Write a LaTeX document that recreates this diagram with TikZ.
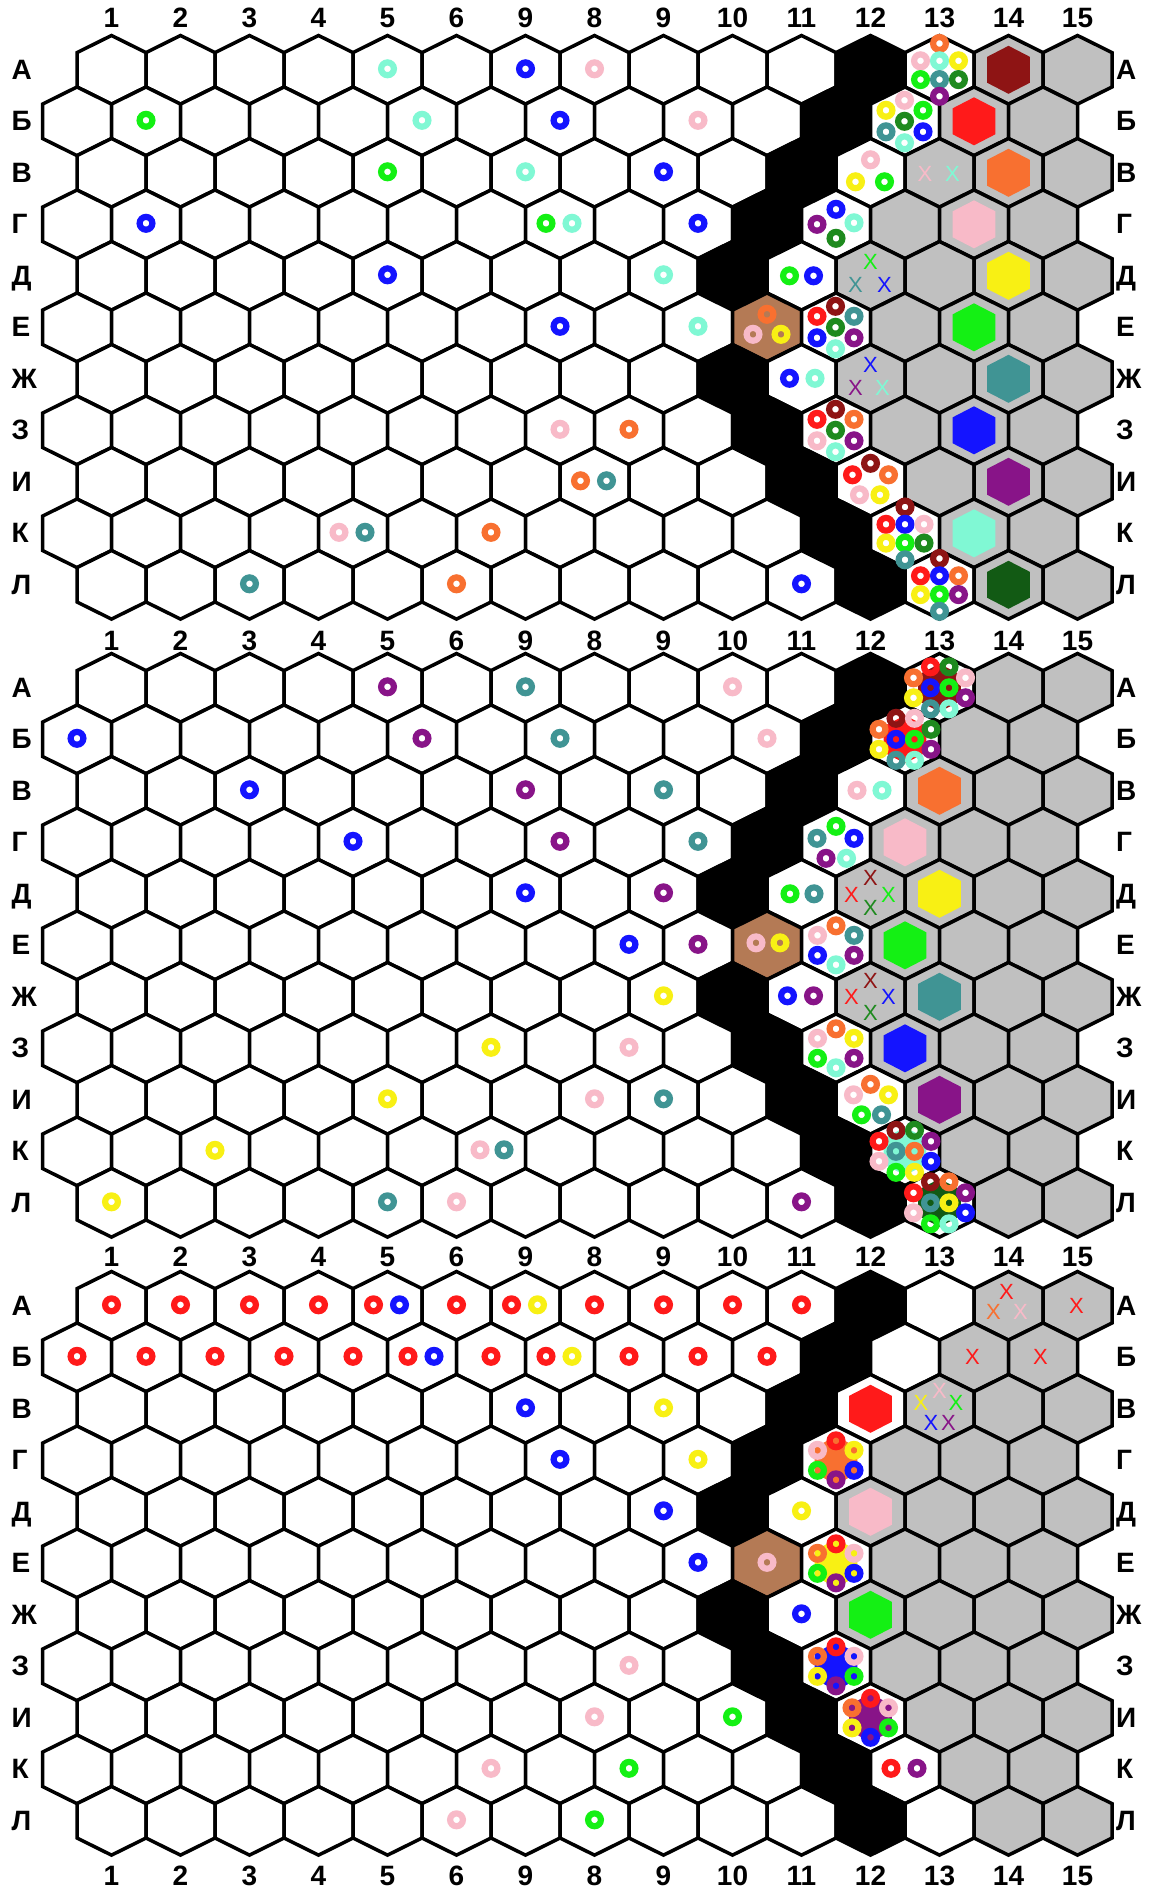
\documentclass[tikz,border=0pt]{standalone}
\usepackage{fontspec}
\setmainfont{Liberation Sans}
\definecolor{cRed}{HTML}{FF1A1A}
\definecolor{cDkRed}{HTML}{8E1414}
\definecolor{cOrange}{HTML}{F87030}
\definecolor{cPink}{HTML}{F8BAC8}
\definecolor{cYellow}{HTML}{F8F014}
\definecolor{cGreen}{HTML}{14F014}
\definecolor{cDkGreen}{HTML}{1E8A1E}
\definecolor{cHexDkGreen}{HTML}{125A14}
\definecolor{cTeal}{HTML}{409494}
\definecolor{cBlue}{HTML}{1414FF}
\definecolor{cPurple}{HTML}{881488}
\definecolor{cAqua}{HTML}{80F8D4}
\definecolor{cBrown}{HTML}{B47A55}
\definecolor{cGray}{HTML}{C0C0C0}
\newcount\nodeno
\newcommand\cellc[3]{%
 \pgfmathsetmacro\hcx{(mod(#2,2)==0 ? 111.5 : 77)+69*(#3-1)}%
 \pgfmathsetmacro\hcy{69.8+618*(#1)+51.5*(#2)}}
\newcommand\at[3]{\cellc{#1}{#2}{#3}}
\newcommand\hexp[2]{({#1},{#2-34.33})--({#1+34.5},{#2-17.17})--({#1+34.5},{#2+17.17})--({#1},{#2+34.33})--({#1-34.5},{#2+17.17})--({#1-34.5},{#2-17.17})--cycle}
\newcommand\rr[3]{\draw[ringst,draw=#1] ({\hcx+(#2)},{\hcy+(#3)}) circle[radius=6.4];}
\newcommand\one[1]{\rr{#1}{0}{-1}}
\newcommand\two[2]{\rr{#1}{-14}{-1}\rr{#2}{12}{-1}}
\newcommand\ih[1]{\fill[#1] ({\hcx},{\hcy-24})--({\hcx+21.3},{\hcy-13})--({\hcx+21.3},{\hcy+13})--({\hcx},{\hcy+24})--({\hcx-21.3},{\hcy+13})--({\hcx-21.3},{\hcy-13})--cycle;}
\newcommand\xx[3]{\global\advance\nodeno by 1 \node[xmk,text=#1] (xm\the\nodeno) at ({\hcx+(#2)},{\hcy+(#3)}) {X};}
\newcommand\hexsix[6]{\rr{#1}{0}{-19.5}\rr{#2}{-18.5}{-10}\rr{#3}{18}{-10}\rr{#4}{-18.5}{10}\rr{#5}{18}{10}\rr{#6}{0}{19.5}}
\newcommand\hexseven[7]{\rr{#1}{-0.5}{-21}\rr{#2}{-19}{-11}\rr{#3}{18}{-11}\rr{#4}{-0.5}{0}\rr{#5}{-19}{10.5}\rr{#6}{18}{10.5}\rr{#7}{-0.5}{21.5}}
\newcommand\eightp[8]{\rr{#1}{0}{-26.3}\rr{#2}{-19}{-9}\rr{#3}{0}{-9}\rr{#4}{19}{-9}\rr{#5}{-19}{9.8}\rr{#6}{0}{9.8}\rr{#7}{19}{9.8}\rr{#8}{0}{26.5}}
\newcommand\tenA[5]{\rr{#1}{-9}{-21}\rr{#2}{9.5}{-21}\rr{#3}{-26}{-10}\rr{#4}{26}{-10}\rr{#5}{-9}{0}}
\newcommand\tenB[5]{\rr{#1}{9.5}{0}\rr{#2}{-26}{10}\rr{#3}{26}{10}\rr{#4}{-9}{21}\rr{#5}{9.5}{21}}
\tikzset{
 hexst/.style={draw=black,line width=3.5pt},
 ringst/.style={line width=6.2pt},
 xmk/.style={font=\fontsize{22}{22}\selectfont,inner sep=0pt},
 lbl/.style={font=\bfseries\fontsize{28}{30}\selectfont,inner sep=0pt},
}
\begin{document}
\begin{tikzpicture}[x=1pt,y=-1pt]
\useasboundingbox (0,0) rectangle (1150,1890);
\fill[white] (0,0) rectangle (1150,1890);
% ---------- cells
\foreach \gi in {0,1,2}{
 \foreach \ri in {0,...,10}{
  \pgfmathtruncatemacro\gs{{14,14,13,13,12,13,12,13,13,14,14}[\ri]}
  \pgfmathtruncatemacro\bk{{12,12,11,11,10,0,10,11,11,12,12}[\ri]}
  \foreach \ki in {1,...,15}{
   \cellc{\gi}{\ri}{\ki}
   \def\fc{white}
   \ifnum\ki<\gs\relax\else\def\fc{cGray}\fi
   \ifnum\ki=\bk\relax\def\fc{black}\fi
   \ifnum\ri=5 \ifnum\ki=11 \def\fc{cBrown}\fi\fi
   \draw[hexst,fill=\fc] \hexp{\hcx}{\hcy};
  }}}
% ---------- labels
\foreach \yb [count=\j] in {27.5,650.5,1266.5,1885}{
 \foreach \lab [count=\i] in {1,2,3,4,5,6,9,8,9,10,11,12,13,14,15}{
  \node[lbl,anchor=base] (col\j-\i) at ({111.5+69*(\i-1)},\yb) {\lab};}}
\foreach \gi in {0,1,2}{
 \foreach \lab [count=\i from 0] in {А,Б,В,Г,Д,Е,Ж,З,И,К,Л}{
  \pgfmathsetmacro\yb{69.8+618*\gi+51.5*\i+9.3}
  \node[lbl,anchor=base west] (rl\gi-\i) at (11.5,\yb) {\lab};
  \node[lbl,anchor=base west] (rr\gi-\i) at (1116,\yb) {\lab};}}
% ---------- inner coloured hexes
\at{0}{0}{14}\ih{cDkRed}
\at{0}{1}{14}\ih{cRed}
\at{0}{2}{14}\ih{cOrange}
\at{0}{3}{14}\ih{cPink}
\at{0}{4}{14}\ih{cYellow}
\at{0}{5}{14}\ih{cGreen}
\at{0}{6}{14}\ih{cTeal}
\at{0}{7}{14}\ih{cBlue}
\at{0}{8}{14}\ih{cPurple}
\at{0}{9}{14}\ih{cAqua}
\at{0}{10}{14}\ih{cHexDkGreen}
\at{1}{0}{13}\ih{cDkRed}
\at{1}{1}{13}\ih{cRed}
\at{1}{2}{13}\ih{cOrange}
\at{1}{3}{13}\ih{cPink}
\at{1}{4}{13}\ih{cYellow}
\at{1}{5}{13}\ih{cGreen}
\at{1}{6}{13}\ih{cTeal}
\at{1}{7}{13}\ih{cBlue}
\at{1}{8}{13}\ih{cPurple}
\at{1}{9}{13}\ih{cAqua}
\at{1}{10}{13}\ih{cHexDkGreen}
\at{2}{2}{12}\ih{cRed}
\at{2}{3}{12}\ih{cOrange}
\at{2}{4}{12}\ih{cPink}
\at{2}{5}{12}\ih{cYellow}
\at{2}{6}{12}\ih{cGreen}
\at{2}{7}{12}\ih{cBlue}
\at{2}{8}{12}\ih{cPurple}
% ---------- top grid
\at{0}{0}{5}\one{cAqua}
\at{0}{0}{7}\one{cBlue}
\at{0}{0}{8}\one{cPink}
\at{0}{1}{2}\one{cGreen}
\at{0}{1}{6}\one{cAqua}
\at{0}{1}{8}\one{cBlue}
\at{0}{1}{10}\one{cPink}
\at{0}{2}{5}\one{cGreen}
\at{0}{2}{7}\one{cAqua}
\at{0}{2}{9}\one{cBlue}
\at{0}{3}{2}\one{cBlue}
\at{0}{3}{8}\two{cGreen}{cAqua}
\at{0}{3}{10}\one{cBlue}
\at{0}{4}{5}\one{cBlue}
\at{0}{4}{9}\one{cAqua}
\at{0}{5}{8}\one{cBlue}
\at{0}{5}{10}\one{cAqua}
\at{0}{7}{8}\one{cPink}
\at{0}{7}{9}\one{cOrange}
\at{0}{8}{8}\two{cOrange}{cTeal}
\at{0}{9}{5}\two{cPink}{cTeal}
\at{0}{9}{7}\one{cOrange}
\at{0}{10}{3}\one{cTeal}
\at{0}{10}{6}\one{cOrange}
\at{0}{10}{11}\one{cBlue}
\at{0}{0}{13}\eightp{cOrange}{cPink}{cAqua}{cYellow}{cGreen}{cTeal}{cDkGreen}{cPurple}
\at{0}{1}{13}\hexseven{cPink}{cYellow}{cGreen}{cDkGreen}{cTeal}{cBlue}{cAqua}
\at{0}{2}{12}\rr{cPink}{0}{-13}\rr{cYellow}{-15}{9}\rr{cGreen}{14}{9}
\at{0}{2}{13}\xx{cPink}{-14.5}{1}\xx{cAqua}{13}{1}
\at{0}{3}{12}\rr{cBlue}{0}{-15}\rr{cPurple}{-19}{0}\rr{cAqua}{18}{-1.5}\rr{cDkGreen}{0}{14}
\at{0}{4}{11}\rr{cGreen}{-12}{0}\rr{cBlue}{12}{0}
\at{0}{4}{12}\xx{cGreen}{0}{-14}\xx{cTeal}{-15}{9}\xx{cBlue}{14}{9}
\at{0}{5}{11}\rr{cOrange}{0}{-13}\rr{cPink}{-14}{7}\rr{cYellow}{14}{7}
\at{0}{5}{12}\hexseven{cDkRed}{cRed}{cTeal}{cDkGreen}{cBlue}{cPurple}{cAqua}
\at{0}{6}{11}\rr{cBlue}{-12}{-0.5}\rr{cAqua}{13.5}{-0.5}
\at{0}{6}{12}\xx{cBlue}{0}{-14}\xx{cPurple}{-15}{9.5}\xx{cAqua}{12}{9.5}
\at{0}{7}{12}\hexseven{cDkRed}{cRed}{cOrange}{cDkGreen}{cPink}{cPurple}{cAqua}
\at{0}{8}{12}\rr{cDkRed}{0}{-18.5}\rr{cRed}{-18}{-7}\rr{cOrange}{18}{-7}\rr{cPink}{-11}{13}\rr{cYellow}{9.5}{13}
\at{0}{9}{13}\eightp{cDkRed}{cRed}{cBlue}{cPink}{cYellow}{cGreen}{cDkGreen}{cTeal}
\at{0}{10}{13}\eightp{cDkRed}{cRed}{cBlue}{cOrange}{cYellow}{cGreen}{cPurple}{cTeal}
% ---------- middle grid
\at{1}{0}{5}\one{cPurple}
\at{1}{0}{7}\one{cTeal}
\at{1}{0}{10}\one{cPink}
\at{1}{1}{1}\one{cBlue}
\at{1}{1}{6}\one{cPurple}
\at{1}{1}{8}\one{cTeal}
\at{1}{1}{11}\one{cPink}
\at{1}{2}{3}\one{cBlue}
\at{1}{2}{7}\one{cPurple}
\at{1}{2}{9}\one{cTeal}
\at{1}{2}{12}\rr{cPink}{-13.5}{-0.5}\rr{cAqua}{11.5}{-0.5}
\at{1}{3}{5}\one{cBlue}
\at{1}{3}{8}\one{cPurple}
\at{1}{3}{10}\one{cTeal}
\at{1}{4}{7}\one{cBlue}
\at{1}{4}{9}\one{cPurple}
\at{1}{4}{11}\rr{cGreen}{-11.5}{0}\rr{cTeal}{12.5}{0}
\at{1}{5}{9}\one{cBlue}
\at{1}{5}{10}\one{cPurple}
\at{1}{5}{11}\rr{cPink}{-11}{-2.5}\rr{cYellow}{13}{-2.5}
\at{1}{6}{9}\one{cYellow}
\at{1}{6}{11}\rr{cBlue}{-14}{-1}\rr{cPurple}{12}{-1}
\at{1}{7}{7}\one{cYellow}
\at{1}{7}{9}\one{cPink}
\at{1}{8}{5}\one{cYellow}
\at{1}{8}{8}\one{cPink}
\at{1}{8}{9}\one{cTeal}
\at{1}{9}{3}\one{cYellow}
\at{1}{9}{7}\rr{cPink}{-11}{-1.5}\rr{cTeal}{13}{-1.5}
\at{1}{10}{1}\one{cYellow}
\at{1}{10}{5}\one{cTeal}
\at{1}{10}{6}\one{cPink}
\at{1}{10}{11}\one{cPurple}
\at{1}{0}{13}\tenA{cRed}{cDkGreen}{cOrange}{cPink}{cBlue}\tenB{cGreen}{cYellow}{cPurple}{cTeal}{cAqua}
\at{1}{1}{13}\tenA{cDkRed}{cPink}{cOrange}{cDkGreen}{cBlue}\tenB{cGreen}{cYellow}{cPurple}{cTeal}{cAqua}
\at{1}{3}{12}\rr{cGreen}{0}{-16}\rr{cTeal}{-19}{-4}\rr{cBlue}{18}{-4}\rr{cPurple}{-10}{16}\rr{cAqua}{10.5}{16}
\at{1}{4}{12}\xx{cDkRed}{0}{-15.5}\xx{cRed}{-19}{1}\xx{cGreen}{18}{1}\xx{cDkGreen}{0}{14.5}
\at{1}{5}{12}\hexsix{cOrange}{cPink}{cTeal}{cBlue}{cPurple}{cAqua}
\at{1}{6}{12}\xx{cDkRed}{0}{-16}\xx{cRed}{-19}{0.5}\xx{cBlue}{18}{0.5}\xx{cDkGreen}{0}{16}
\at{1}{7}{12}\hexsix{cOrange}{cPink}{cYellow}{cGreen}{cPurple}{cAqua}
\at{1}{8}{12}\rr{cOrange}{0}{-15.5}\rr{cPink}{-17}{-5}\rr{cYellow}{18}{-5}\rr{cGreen}{-9}{15}\rr{cTeal}{11}{15}
\at{1}{9}{13}\tenA{cDkRed}{cDkGreen}{cRed}{cPurple}{cTeal}\tenB{cOrange}{cPink}{cBlue}{cGreen}{cYellow}
\at{1}{10}{13}\tenA{cDkRed}{cOrange}{cRed}{cPurple}{cTeal}\tenB{cYellow}{cPink}{cBlue}{cGreen}{cAqua}
% ---------- bottom grid
\foreach \kk in {1,2,3,4,6,8,9,10,11}{\at{2}{0}{\kk}\one{cRed}}
\at{2}{0}{5}\two{cRed}{cBlue}
\at{2}{0}{7}\two{cRed}{cYellow}
\foreach \kk in {1,2,3,4,5,7,9,10,11}{\at{2}{1}{\kk}\one{cRed}}
\at{2}{1}{6}\two{cRed}{cBlue}
\at{2}{1}{8}\two{cRed}{cYellow}
\at{2}{2}{7}\one{cBlue}
\at{2}{2}{9}\one{cYellow}
\at{2}{3}{8}\one{cBlue}
\at{2}{3}{10}\one{cYellow}
\at{2}{4}{9}\one{cBlue}
\at{2}{4}{11}\one{cYellow}
\at{2}{5}{10}\one{cBlue}
\at{2}{5}{11}\one{cPink}
\at{2}{6}{11}\one{cBlue}
\at{2}{7}{9}\one{cPink}
\at{2}{8}{8}\one{cPink}
\at{2}{8}{10}\one{cGreen}
\at{2}{9}{7}\one{cPink}
\at{2}{9}{9}\one{cGreen}
\at{2}{9}{13}\two{cRed}{cPurple}
\at{2}{10}{6}\one{cPink}
\at{2}{10}{8}\one{cGreen}
\at{2}{0}{14}\xx{cRed}{-2}{-14}\xx{cOrange}{-15}{6}\xx{cPink}{12}{6}
\at{2}{0}{15}\xx{cRed}{-1}{0}
\at{2}{1}{14}\xx{cRed}{-1.5}{0}
\at{2}{1}{15}\xx{cRed}{-2.5}{0}
\at{2}{2}{13}\xx{cPink}{0}{-18}\xx{cYellow}{-18.5}{-6}\xx{cGreen}{16.5}{-6}\xx{cBlue}{-8.5}{14.5}\xx{cPurple}{9}{14.5}
\at{2}{3}{12}\hexsix{cRed}{cPink}{cYellow}{cGreen}{cBlue}{cPurple}
\at{2}{5}{12}\hexsix{cRed}{cOrange}{cPink}{cGreen}{cBlue}{cPurple}
\at{2}{7}{12}\hexsix{cRed}{cOrange}{cPink}{cYellow}{cGreen}{cPurple}
\at{2}{8}{12}\hexsix{cRed}{cOrange}{cPink}{cYellow}{cGreen}{cBlue}
\end{tikzpicture}
\end{document}
